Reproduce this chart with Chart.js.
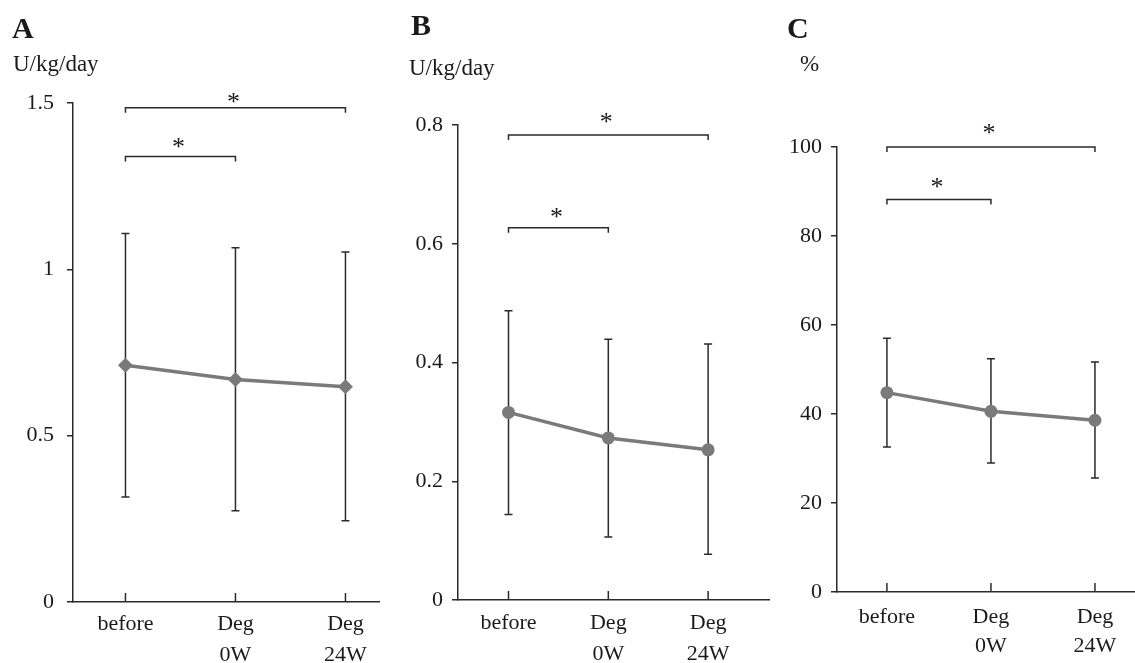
<!DOCTYPE html>
<html>
<head>
<meta charset="UTF-8">
<title>Insulin dose before and after degludec</title>
<script src="https://cdn.jsdelivr.net/npm/chart.js"></script>
<style>
    body { margin: 0; background: #fff; }
    #wrap { position: relative; width: 1135px; height: 663px; overflow: hidden; font-family: 'Liberation Serif', 'DejaVu Serif', serif; color: #1a1a1a; }
    canvas { position: absolute; top: 0; }
    .letter { position: absolute; font-size: 30px; line-height: 30px; font-weight: bold; }
    .unit { position: absolute; font-size: 23px; line-height: 23px; }
</style>
</head>
<body>
<div id="wrap">
    <canvas id="chartA" width="380" height="663" style="left:0"></canvas>
    <canvas id="chartB" width="390" height="663" style="left:380px"></canvas>
    <canvas id="chartC" width="365" height="663" style="left:770px"></canvas>
    <div class="letter" style="left:12px; top:13px">A</div>
    <div class="unit" style="left:13px; top:52px">U/kg/day</div>
    <div class="letter" style="left:411px; top:10px">B</div>
    <div class="unit" style="left:409px; top:56px">U/kg/day</div>
    <div class="letter" style="left:787px; top:13px">C</div>
    <div class="unit" style="left:800px; top:52px">%</div>
</div>

<script>
    // shared categories (x axis)
    const categories = [['before'], ['Deg', '0W'], ['Deg', '24W']];

    // A: total insulin dose, U/kg/day
    const meanA = [0.712, 0.669, 0.647];
    const lowA = [0.316, 0.274, 0.244];
    const highA = [1.108, 1.065, 1.052];
    const yTicksA = [0, 0.5, 1, 1.5];
    const yLabelsA = ['0', '0.5', '1', '1.5'];
    const bracketsA = [[0, 2, 1.486], [0, 1, 1.339]];

    // B: basal insulin dose, U/kg/day
    const meanB = [0.316, 0.273, 0.253];
    const lowB = [0.144, 0.106, 0.077];
    const highB = [0.487, 0.439, 0.431];
    const yTicksB = [0, 0.2, 0.4, 0.6, 0.8];
    const yLabelsB = ['0', '0.2', '0.4', '0.6', '0.8'];
    const bracketsB = [[0, 2, 0.783], [0, 1, 0.627]];

    // C: basal ratio, %
    const meanC = [44.8, 40.6, 38.6];
    const lowC = [32.6, 29.0, 25.6];
    const highC = [57.0, 52.4, 51.7];
    const yTicksC = [0, 20, 40, 60, 80, 100];
    const yLabelsC = ['0', '20', '40', '60', '80', '100'];
    const bracketsC = [[0, 2, 100], [0, 1, 88.2]];

    const SERIF = "'Liberation Serif', 'DejaVu Serif', serif";
    const LINE = '#7a7a7a';
    const AXIS = '#2a2a2a';
    const TEXT = '#1a1a1a';

    // error bars, x tick marks (pointing up), significance brackets
    const extras = {
        id: 'extras',
        beforeDatasetsDraw(chart, args, opts) {
            const {ctx, scales: {x, y}} = chart;
            ctx.save();
            ctx.strokeStyle = AXIS;
            ctx.lineWidth = 1.5;
            opts.low.forEach((lo, i) => {
                const px = x.getPixelForValue(i);
                const y1 = y.getPixelForValue(opts.high[i]);
                const y2 = y.getPixelForValue(lo);
                ctx.beginPath();
                ctx.moveTo(px, y1); ctx.lineTo(px, y2);
                ctx.moveTo(px - 4, y1); ctx.lineTo(px + 4, y1);
                ctx.moveTo(px - 4, y2); ctx.lineTo(px + 4, y2);
                ctx.stroke();
            });
            ctx.restore();
        },
        afterDraw(chart, args, opts) {
            const {ctx, chartArea, scales: {x, y}} = chart;
            ctx.save();
            ctx.strokeStyle = AXIS;
            ctx.lineWidth = 1.5;
            categories.forEach((c, i) => {
                const px = x.getPixelForValue(i);
                ctx.beginPath();
                ctx.moveTo(px, chartArea.bottom);
                ctx.lineTo(px, chartArea.bottom - 9);
                ctx.stroke();
            });
            ctx.fillStyle = TEXT;
            ctx.font = '26px ' + SERIF;
            ctx.textAlign = 'center';
            ctx.textBaseline = 'alphabetic';
            opts.brackets.forEach((b, k) => {
                const x1 = x.getPixelForValue(b[0]);
                const x2 = x.getPixelForValue(b[1]);
                const py = y.getPixelForValue(b[2]);
                ctx.beginPath();
                ctx.moveTo(x1, py + 5); ctx.lineTo(x1, py);
                ctx.lineTo(x2, py); ctx.lineTo(x2, py + 5);
                ctx.stroke();
                ctx.fillText('*', (x1 + x2) / 2 - 2, py - opts.starGap[k] + 12);
            });
            ctx.restore();
        }
    };

    function makePanel(id, p) {
        return new Chart(document.getElementById(id), {
            type: 'line',
            data: {
                datasets: [{
                    data: p.mean.map((v, i) => ({x: i, y: v})),
                    borderColor: LINE,
                    borderWidth: 3.5,
                    pointStyle: p.pointStyle,
                    pointRadius: p.pointRadius,
                    pointBackgroundColor: LINE,
                    pointBorderWidth: 0,
                    tension: 0
                }]
            },
            options: {
                responsive: false,
                animation: false,
                events: [],
                layout: {autoPadding: false, padding: {top: p.top, left: 0, right: 0, bottom: 0}},
                plugins: {
                    legend: {display: false},
                    tooltip: {enabled: false},
                    extras: {low: p.low, high: p.high, brackets: p.brackets, starGap: p.starGap}
                },
                scales: {
                    x: {
                        type: 'linear',
                        min: p.xMin,
                        max: p.xMax,
                        grid: {display: false, drawTicks: false},
                        border: {color: AXIS, width: 1.5},
                        afterBuildTicks: a => { a.ticks = categories.map((c, i) => ({value: i})); },
                        afterFit: a => { a.height = p.xHeight; a.paddingLeft = 0; a.paddingRight = 0; },
                        ticks: {
                            callback: v => categories[v],
                            color: TEXT,
                            font: {family: SERIF, size: 22, lineHeight: p.lineHeight},
                            padding: p.xPad,
                            maxRotation: 0,
                            autoSkip: false
                        }
                    },
                    y: {
                        min: p.yMin,
                        max: p.yMax,
                        grid: {drawOnChartArea: false, drawTicks: true, tickLength: 6, color: AXIS, lineWidth: 1.5},
                        border: {color: AXIS, width: 1.5},
                        afterBuildTicks: a => { a.ticks = p.yTicks.map(v => ({value: v})); },
                        afterFit: a => { a.width = p.yWidth; },
                        ticks: {
                            callback: (v, i) => p.yLabels[i],
                            color: TEXT,
                            font: {family: SERIF, size: 22},
                            padding: p.yPad
                        }
                    }
                }
            },
            plugins: [extras]
        });
    }

    makePanel('chartA', {
        mean: meanA, low: lowA, high: highA, yTicks: yTicksA, yLabels: yLabelsA, brackets: bracketsA,
        pointStyle: 'rectRot', pointRadius: 7.5, starGap: [10, 14],
        yMin: 0, yMax: 1.5, xMin: -0.477, xMax: 2.314,
        top: 103, yWidth: 73, xHeight: 61, yPad: 13, xPad: 7, lineHeight: 1.4
    });
    makePanel('chartB', {
        mean: meanB, low: lowB, high: highB, yTicks: yTicksB, yLabels: yLabelsB, brackets: bracketsB,
        pointStyle: 'circle', pointRadius: 6.5, starGap: [17, 15],
        yMin: 0, yMax: 0.8, xMin: -0.506, xMax: 2.62,
        top: 125, yWidth: 78, xHeight: 63, yPad: 9, xPad: 8, lineHeight: 1.4
    });
    makePanel('chartC', {
        mean: meanC, low: lowC, high: highC, yTicks: yTicksC, yLabels: yLabelsC, brackets: bracketsC,
        pointStyle: 'circle', pointRadius: 6.5, starGap: [18, 17],
        yMin: 0, yMax: 100, xMin: -0.48, xMax: 2.385,
        top: 147, yWidth: 67, xHeight: 71, yPad: 9, xPad: 11, lineHeight: 1.32
    });
</script>
</body>
</html>
